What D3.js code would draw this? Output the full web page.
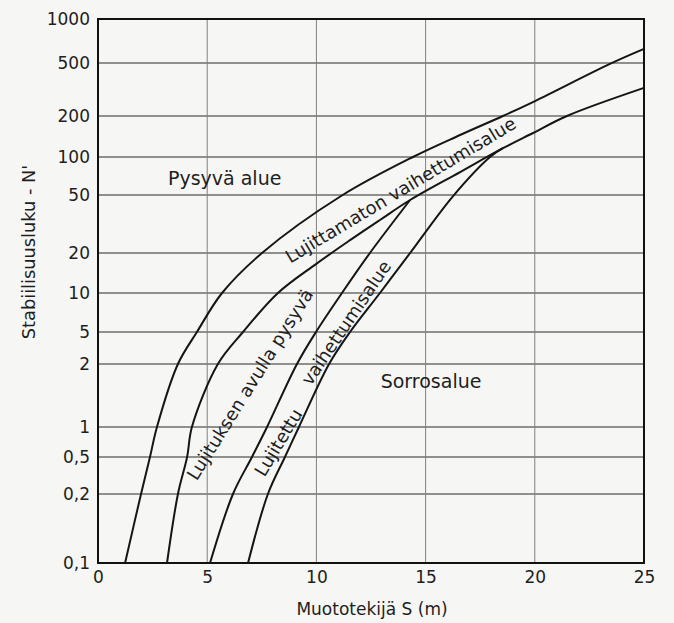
<!DOCTYPE html>
<html>
<head>
<meta charset="utf-8">
<script src="https://cdn.jsdelivr.net/npm/d3@7"></script>
<style>
  html, body { margin: 0; padding: 0; background: #f6f6f4; }
  svg { display: block; }
  text { font-family: "DejaVu Sans", sans-serif; fill: #1e1e1e; }
</style>
</head>
<body>
<svg id="chart" width="674" height="623"></svg>
<script>
// ---------- data ----------
const xTicks = [0, 5, 10, 15, 20, 25];
const yTicks = [0.1, 0.2, 0.5, 1, 2, 5, 10, 20, 50, 100, 200, 500, 1000];

// Curve A: upper limit of unreinforced transition zone
const curveA_S = [1.24, 1.97, 2.38, 2.70, 3.66, 4.53, 5.68, 7.51, 11.13, 14.42, 16.58, 18.54, 20.01, 23.44, 25];
const curveA_N = [0.1, 0.2, 0.5, 1, 2, 5, 10, 20, 49.2, 100, 145, 200, 259, 492, 624];
// Curve B: lower limit of unreinforced transition zone
const curveB_S = [3.16, 3.66, 4.08, 4.30, 5.49, 6.64, 8.24, 9.98, 11.54, 12.91, 14.29, 16.58, 18.54, 19.92, 21.47, 25];
const curveB_N = [0.1, 0.2, 0.5, 1, 2, 5, 10, 16.5, 24.5, 33.7, 46.2, 76, 116, 150, 200, 325];
// Curve C: limit of "stable by reinforcement"
const curveC_S = [5.13, 6.18, 7.05, 7.74, 9.11, 9.98, 11.17, 12.45, 14.29];
const curveC_N = [0.1, 0.2, 0.5, 1, 2, 5, 10, 20, 46.2];
// Curve D: lower limit of reinforced transition zone
const curveD_S = [6.87, 7.78, 8.56, 9.20, 10.58, 11.54, 12.91, 14.29, 16.25, 17.95, 18.54];
const curveD_N = [0.1, 0.2, 0.5, 1, 2, 5, 10, 20, 49, 100, 116];

// Region labels (data coordinates of label centre)
const regionNames = ["Pysyvä alue", "Sorrosalue"];
const regionS = [5.8, 15.25];
const regionN = [68, 1.65];

const bandNames = ["Lujittamaton vaihettumisalue", "Lujituksen avulla pysyvä", "Lujitettu", "vaihettumisalue"];
const bandS = [13.85, 6.95, 8.25, 11.35];
const bandN = [55, 1.6, 0.7, 5.9];
const bandAngle = [-31, -58, -59, -56];

const xTitle = "Muototekijä S (m)";
const yTitle = "Stabiilisuusluku - N'";

// ---------- layout ----------
const yPix = [563, 494, 457, 427, 364, 332, 293, 253, 195, 157, 116, 63, 19];
const x = d3.scaleLinear().domain([0, 25]).range([98, 644]);
const y = d3.scaleLog().domain(yTicks).range(yPix);

const svg = d3.select("#chart");
const fmt = v => String(v).replace(".", ",");

// grid
svg.append("g").selectAll("line")
  .data(yTicks.slice(1, -1)).join("line")
  .attr("x1", x(0)).attr("x2", x(25))
  .attr("y1", d => y(d)).attr("y2", d => y(d))
  .attr("stroke", "#6c6c6c").attr("stroke-width", 1.3);
svg.append("g").selectAll("line")
  .data(xTicks.slice(1, -1)).join("line")
  .attr("x1", d => x(d)).attr("x2", d => x(d))
  .attr("y1", y(0.1)).attr("y2", y(1000))
  .attr("stroke", "#808080").attr("stroke-width", 1);

// axes
const yAxis = d3.axisLeft(y).tickValues(yTicks).tickFormat(fmt).tickSize(0).tickPadding(8);
const gy = svg.append("g").attr("transform", `translate(${x(0)},0)`).call(yAxis);
gy.select(".domain").remove();
gy.selectAll("text").attr("font-size", 17).attr("font-family", "DejaVu Sans").attr("fill", "#1e1e1e");

const xAxis = d3.axisBottom(x).tickValues(xTicks).tickSize(0).tickPadding(8);
const gx = svg.append("g").attr("transform", `translate(0,${y(0.1)})`).call(xAxis);
gx.select(".domain").remove();
gx.selectAll("text").attr("font-size", 17).attr("font-family", "DejaVu Sans").attr("fill", "#1e1e1e");

// frame
svg.append("rect")
  .attr("x", x(0)).attr("y", y(1000))
  .attr("width", x(25) - x(0)).attr("height", y(0.1) - y(1000))
  .attr("fill", "none").attr("stroke", "#111").attr("stroke-width", 2);

// curves
const line = d3.line().x(d => x(d[0])).y(d => y(d[1])).curve(d3.curveCatmullRom.alpha(0.5));
const curves = [
  d3.zip(curveA_S, curveA_N),
  d3.zip(curveB_S, curveB_N),
  d3.zip(curveC_S, curveC_N),
  d3.zip(curveD_S, curveD_N)
];
svg.append("g").selectAll("path")
  .data(curves).join("path")
  .attr("d", line)
  .attr("fill", "none").attr("stroke", "#151515").attr("stroke-width", 2);

// region labels
svg.append("g").selectAll("text")
  .data(regionNames).join("text")
  .attr("x", (d, i) => x(regionS[i])).attr("y", (d, i) => y(regionN[i]))
  .attr("text-anchor", "middle").attr("dominant-baseline", "central")
  .attr("font-size", 19)
  .text(d => d);

// band labels
svg.append("g").selectAll("text")
  .data(bandNames).join("text")
  .attr("transform", (d, i) => `translate(${x(bandS[i])},${y(bandN[i])}) rotate(${bandAngle[i]})`)
  .attr("text-anchor", "middle").attr("dominant-baseline", "central")
  .attr("font-size", 18)
  .text(d => d);

// axis titles
svg.append("text")
  .attr("x", (x(0) + x(25)) / 2 + 1).attr("y", 615)
  .attr("text-anchor", "middle").attr("font-size", 17)
  .text(xTitle);
svg.append("text")
  .attr("transform", `translate(35,252) rotate(-90)`)
  .attr("text-anchor", "middle").attr("font-size", 17.8)
  .text(yTitle);
</script>
</body>
</html>
